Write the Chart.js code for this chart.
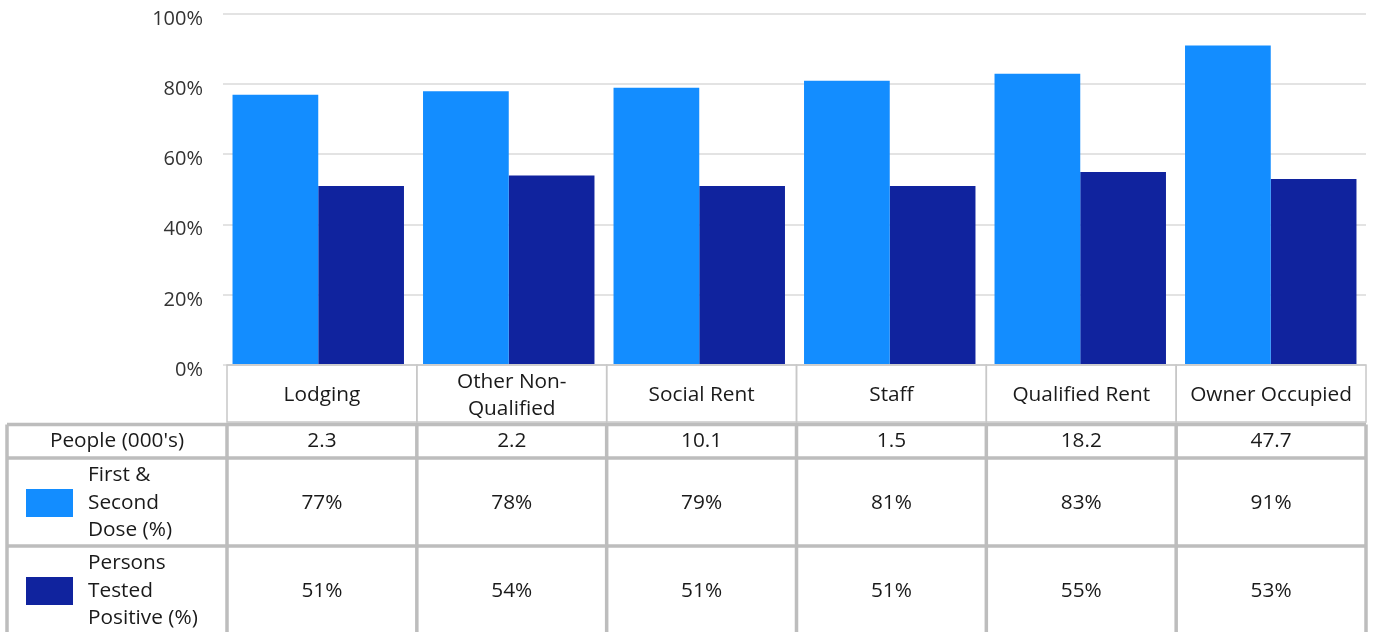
<!DOCTYPE html>
<html>
<head>
<meta charset="utf-8">
<script src="https://cdn.jsdelivr.net/npm/chart.js@4.4.1/dist/chart.umd.min.js"></script>
<style>
  html, body { margin: 0; padding: 0; background: #fff; }
  #wrap { width: 1374px; height: 632px; }
</style>
</head>
<body>
<div id="wrap"><canvas id="chart" width="1374" height="632"></canvas></div>
<script>
  "use strict";

  var categories = ["Lodging", "Other Non-Qualified", "Social Rent", "Staff", "Qualified Rent", "Owner Occupied"];
  var people = ["2.3", "2.2", "10.1", "1.5", "18.2", "47.7"];
  var firstSecondDose = [77, 78, 79, 81, 83, 91];
  var testedPositive = [51, 54, 51, 51, 55, 53];
  var seriesNames = ["First & Second Dose (%)", "Persons Tested Positive (%)"];
  var peopleTitle = "People (000's)";
  var yMax = 100;
  var yStep = 20;

  var LIGHT = "#138dff";
  var DARK = "#10239e";
  var FONT = '20.8px "Open Sans"';
  var TEXT = "#1a1a1a";

  function wrapText(ctx, text, max) {
    var tokens = [];
    text.split(" ").forEach(function (word) {
      var bits = word.split(/(?<=-)/);
      bits.forEach(function (b, i) {
        tokens.push({ t: b, sp: i === bits.length - 1 });
      });
    });
    var lines = [];
    var cur = "";
    tokens.forEach(function (tk) {
      var test = cur + tk.t;
      if (cur.trim() && ctx.measureText(test.trim()).width > max) {
        lines.push(cur.trim());
        cur = tk.t + (tk.sp ? " " : "");
      } else {
        cur = test + (tk.sp ? " " : "");
      }
    });
    if (cur.trim()) lines.push(cur.trim());
    return lines;
  }

  function drawLines(ctx, lines, x, cy, lh) {
    var y0 = cy - (lines.length - 1) * lh / 2;
    lines.forEach(function (l, i) {
      ctx.fillText(l, x, y0 + i * lh);
    });
  }

  var dataTable = {
    id: "dataTable",
    afterDraw: function (chart) {
      var ctx = chart.ctx;
      var area = chart.chartArea;
      var n = categories.length;
      var tLeft = area.left + 4;
      var tRight = area.right;
      var leftX = 7;
      var colX = function (i) { return tLeft + i * (tRight - tLeft) / n; };
      var headTop = area.bottom;
      var headBottom = 422;
      var rowEdges = [424.5, 458, 546, 640];
      var rowCenters = [441, 503, 591];

      ctx.save();

      // header cells
      ctx.strokeStyle = "#c8c8c8";
      ctx.lineWidth = 1.5;
      for (var i = 0; i < n; i++) {
        ctx.strokeRect(colX(i), headTop, colX(i + 1) - colX(i), headBottom - headTop);
      }

      // body grid
      ctx.strokeStyle = "#bdbdbd";
      ctx.lineWidth = 3.5;
      ctx.beginPath();
      rowEdges.slice(0, 3).forEach(function (y) {
        ctx.moveTo(leftX, y);
        ctx.lineTo(tRight, y);
      });
      ctx.moveTo(leftX, rowEdges[0]);
      ctx.lineTo(leftX, 632);
      for (var j = 0; j <= n; j++) {
        ctx.moveTo(colX(j), rowEdges[0]);
        ctx.lineTo(colX(j), 632);
      }
      ctx.stroke();

      ctx.font = FONT;
      ctx.fillStyle = TEXT;
      ctx.textBaseline = "middle";
      ctx.textAlign = "center";

      // category headers
      categories.forEach(function (c, i) {
        var w = colX(i + 1) - colX(i);
        drawLines(ctx, wrapText(ctx, c, w - 22), (colX(i) + colX(i + 1)) / 2, (headTop + headBottom) / 2 + 2, 27);
      });

      // people row
      ctx.fillText(peopleTitle, (leftX + colX(0)) / 2, rowCenters[0]);
      people.forEach(function (v, i) {
        ctx.fillText(v, (colX(i) + colX(i + 1)) / 2, rowCenters[0]);
      });

      // series rows
      var series = [firstSecondDose, testedPositive];
      var colors = [LIGHT, DARK];
      series.forEach(function (vals, s) {
        var cy = rowCenters[s + 1];
        ctx.fillStyle = colors[s];
        ctx.fillRect(26, cy - 14, 47, 28);
        ctx.fillStyle = TEXT;
        ctx.textAlign = "left";
        drawLines(ctx, wrapText(ctx, seriesNames[s], 120), 88, cy, 27.5);
        ctx.textAlign = "center";
        vals.forEach(function (v, i) {
          ctx.fillText(v + "%", (colX(i) + colX(i + 1)) / 2, cy);
        });
      });

      ctx.restore();
    }
  };

  function build() {
    new Chart(document.getElementById("chart"), {
      type: "bar",
      data: {
        labels: categories,
        datasets: [
          { label: seriesNames[0], data: firstSecondDose, backgroundColor: LIGHT },
          { label: seriesNames[1], data: testedPositive, backgroundColor: DARK }
        ]
      },
      options: {
        responsive: false,
        animation: false,
        events: [],
        categoryPercentage: 0.9,
        barPercentage: 1,
        layout: { padding: { top: 14, right: 8, bottom: 267, left: 0 } },
        plugins: { legend: { display: false }, tooltip: { enabled: false } },
        scales: {
          x: { display: false },
          y: {
            min: 0,
            max: yMax,
            afterFit: function (scale) {
              scale.width = 223;
              scale.paddingTop = 0;
              scale.paddingBottom = 0;
            },
            border: { display: false },
            grid: { color: "#e3e3e3", lineWidth: 2, drawTicks: false },
            ticks: {
              stepSize: yStep,
              padding: 20,
              labelOffset: 5,
              color: "#333333",
              font: { family: "Open Sans", size: 20 },
              callback: function (v) { return v + "%"; }
            }
          }
        }
      },
      plugins: [dataTable]
    });
  }

  if (document.fonts && document.fonts.load) {
    document.fonts.load(FONT).then(build, build);
  } else {
    build();
  }
</script>
</body>
</html>
